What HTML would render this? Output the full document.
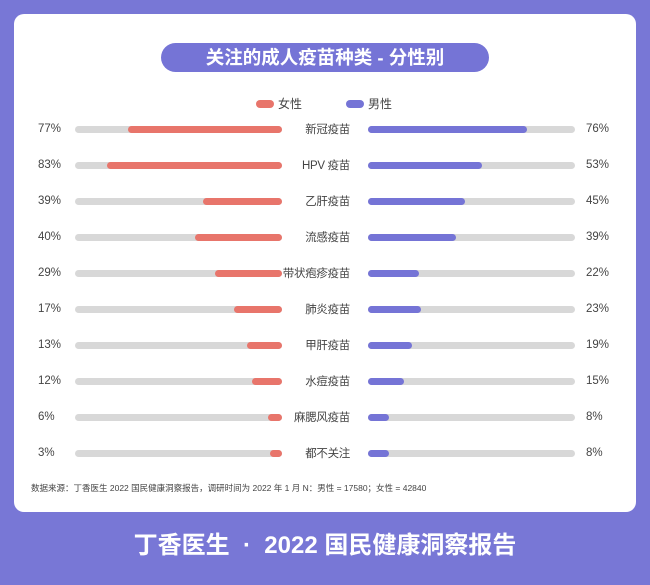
<!DOCTYPE html>
<html><head><meta charset="utf-8"><style>
body{margin:0;width:650px;height:585px;background:#7877d6;position:relative;overflow:hidden;font-family:"Liberation Sans","Noto Sans CJK SC",sans-serif}
.card{position:absolute;left:14px;top:14px;width:622px;height:498px;background:#fff;border-radius:10px}
.title{position:absolute;left:161px;top:43px;width:328px;height:29px;background:#7574d6;border-radius:15px;color:#fff;font-weight:bold;font-size:18.5px;line-height:29px;text-align:center}
.sw{position:absolute;height:8px;width:18px;border-radius:4px;top:100px}
.lg{position:absolute;top:97px;font-size:12px;line-height:14px;color:#444}
.t{position:absolute;height:7px;border-radius:4px;background:#d8d8d8}
.f{position:absolute;height:7px;border-radius:4px}
.p{position:absolute;font-size:11.5px;line-height:14px;height:14px;color:#444}
.c{position:absolute;font-size:11.5px;line-height:14px;height:14px;color:#444;text-align:right;width:120px;left:230px;letter-spacing:-0.3px}
.note{position:absolute;left:31px;top:482px;font-size:8.5px;color:#444}
.foot{position:absolute;left:0;width:650px;top:532px;text-align:center;color:#fff;font-weight:bold;font-size:24px;line-height:28px;white-space:pre}
</style></head><body>
<div class="card"></div>
<div class="title">关注的成人疫苗种类 - 分性别</div>
<div class="sw" style="left:256px;background:#e8756b"></div><div class="lg" style="left:278px">女性</div>
<div class="sw" style="left:346px;background:#7574d6"></div><div class="lg" style="left:368px">男性</div>
<div id="rows"></div>
<script>
var d=[["新冠疫苗",77,128,76,527],["HPV 疫苗",83,107,53,482],["乙肝疫苗",39,203,45,465],["流感疫苗",40,195,39,456],["带状疱疹疫苗",29,215,22,419],["肺炎疫苗",17,234,23,421],["甲肝疫苗",13,247,19,412],["水痘疫苗",12,252,15,404],["麻腮风疫苗",6,268,8,389],["都不关注",3,270,8,389]];
var h="";
d.forEach(function(r,i){var y=129+36*i;
h+='<div class="p" style="left:38px;top:'+(y-7)+'px">'+r[1]+'%</div>';
h+='<div class="t" style="left:75px;width:207px;top:'+(y-3)+'px"></div>';
h+='<div class="f" style="background:#e8756b;left:'+r[2]+'px;width:'+(282-r[2])+'px;top:'+(y-3)+'px"></div>';
h+='<div class="c" style="top:'+(y-6)+'px">'+r[0]+'</div>';
h+='<div class="t" style="left:368px;width:207px;top:'+(y-3)+'px"></div>';
h+='<div class="f" style="background:#7574d6;left:368px;width:'+(r[4]-368)+'px;top:'+(y-3)+'px"></div>';
h+='<div class="p" style="left:586px;top:'+(y-7)+'px">'+r[3]+'%</div>';});
document.getElementById("rows").innerHTML=h;
</script>
<div class="note">数据来源：丁香医生 2022 国民健康洞察报告，调研时间为 2022 年 1 月 N：男性 = 17580；女性 = 42840</div>
<div class="foot">丁香医生  ·  2022 国民健康洞察报告</div>
</body></html>
